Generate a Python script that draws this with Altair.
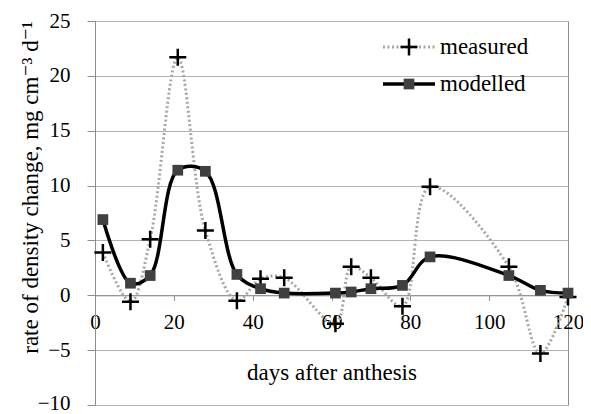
import altair as alt
import pandas as pd

# ---- data ----
days = [2, 9, 14, 21, 28, 36, 42, 48, 61, 65, 70, 78, 85, 105, 113, 120]
measured = [3.9, -0.6, 5.1, 21.7, 5.9, -0.5, 1.5, 1.6, -2.6, 2.6, 1.6, -1.0, 9.9, 2.6, -5.3, -0.15]
modelled = [6.9, 1.1, 1.8, 11.4, 11.3, 1.9, 0.6, 0.2, 0.2, 0.3, 0.6, 0.9, 3.5, 1.8, 0.45, 0.2]
series_names = ["measured", "modelled"]
x_ticks = [0, 20, 40, 60, 80, 100, 120]
y_ticks = [-10, -5, 0, 5, 10, 15, 20, 25]
x_title = "days after anthesis"
y_title = "rate of density change, mg cm\u207b\u00b3 d\u207b\u00b9"

df_meas = pd.DataFrame({"day": days, "value": measured})
df_mod = pd.DataFrame({"day": days, "value": modelled})

W, H = 473, 384
FONT = "'Liberation Serif', 'Times New Roman', 'DejaVu Serif', serif"
FS = 21
FS_T = 23
GRID = "#b3b3b3"
DOM = "#8c8c8c"
MEAS_LINE = "#a6a6a6"
SQ = "#404040"
CROSS = "M-1,0L1,0M0,-1L0,1"
INTERP = "catmull-rom"

x_enc = alt.X(
    "day:Q",
    scale=alt.Scale(domain=[0, 120], nice=False),
    axis=alt.Axis(
        values=x_ticks, grid=False, offset=-H * 10 / 35,
        tickSize=5, tickColor=DOM, domainColor=DOM,
        labelFlush=False, labelOverlap=False, labelBaseline="middle", labelPadding=22,
        labelFont=FONT, labelFontSize=FS, labelColor="black",
        title=x_title, titleFont=FONT, titleFontSize=FS_T, titleFontWeight="normal",
        titleColor="black", titleY=77, titleBaseline="middle",
    ),
)
y_enc = alt.Y(
    "value:Q",
    scale=alt.Scale(domain=[-10, 25], nice=False),
    axis=alt.Axis(
        values=y_ticks, grid=True, gridColor=GRID, gridWidth=1,
        tickSize=8, tickColor=DOM, domainColor=DOM,
        labelPadding=17, labelFont=FONT, labelFontSize=FS, labelColor="black",
        labelOffset={"condition": {"test": "datum.value == -10", "value": -2}, "value": 0},
        title=y_title, titleFont=FONT, titleFontSize=FS_T, titleFontWeight="normal",
        titleColor="black", titleAngle=-90, titleX=-65, titleY=166,
        titleAlign="center", titleBaseline="middle",
    ),
)

meas_line = alt.Chart(df_meas).mark_line(
    interpolate=INTERP, color=MEAS_LINE, strokeWidth=3, strokeDash=[2, 2.5]
).encode(x=x_enc, y=y_enc)
meas_pts = alt.Chart(df_meas).mark_point(
    shape=CROSS, size=289, filled=False, stroke="black", strokeWidth=2.5, opacity=1
).encode(x="day:Q", y="value:Q")
mod_line = alt.Chart(df_mod).mark_line(
    interpolate=INTERP, color="black", strokeWidth=3.5
).encode(x="day:Q", y="value:Q")
mod_pts = alt.Chart(df_mod).mark_point(
    shape="square", size=115, filled=True, color=SQ, opacity=1
).encode(x="day:Q", y="value:Q")

# ---- legend (top right, inside plot) ----
leg1 = pd.DataFrame({"s": [series_names[0]]})
leg2 = pd.DataFrame({"s": [series_names[1]]})
ly1, ly2 = 26, 63
lx0, lx1, lxm, lxt = 288, 340, 314, 345
leg_layers = [
    alt.Chart(leg1).mark_rule(color=MEAS_LINE, strokeWidth=3, strokeDash=[2, 2.5]).encode(
        x=alt.value(lx0), x2=alt.value(lx1), y=alt.value(ly1)),
    alt.Chart(leg1).mark_point(shape=CROSS, size=289, filled=False, stroke="black",
                               strokeWidth=2.5, opacity=1).encode(x=alt.value(lxm), y=alt.value(ly1)),
    alt.Chart(leg1).mark_text(align="left", baseline="middle", font=FONT, fontSize=FS_T,
                              color="black").encode(x=alt.value(lxt), y=alt.value(ly1), text="s:N"),
    alt.Chart(leg2).mark_rule(color="black", strokeWidth=3.5).encode(
        x=alt.value(lx0), x2=alt.value(lx1), y=alt.value(ly2)),
    alt.Chart(leg2).mark_point(shape="square", size=115, filled=True, color=SQ,
                               opacity=1).encode(x=alt.value(lxm), y=alt.value(ly2)),
    alt.Chart(leg2).mark_text(align="left", baseline="middle", font=FONT, fontSize=FS_T,
                              color="black").encode(x=alt.value(lxt), y=alt.value(ly2), text="s:N"),
]

chart = alt.layer(meas_line, meas_pts, mod_line, mod_pts, *leg_layers).properties(
    width=W, height=H,
    padding={"left": 87, "top": 13, "right": 15, "bottom": 10},
    autosize=alt.AutoSizeParams(type="none"),
    background="white",
).configure_view(stroke=DOM, strokeWidth=1)

chart.save("out.html", embed_options={"renderer": "svg", "actions": False})
